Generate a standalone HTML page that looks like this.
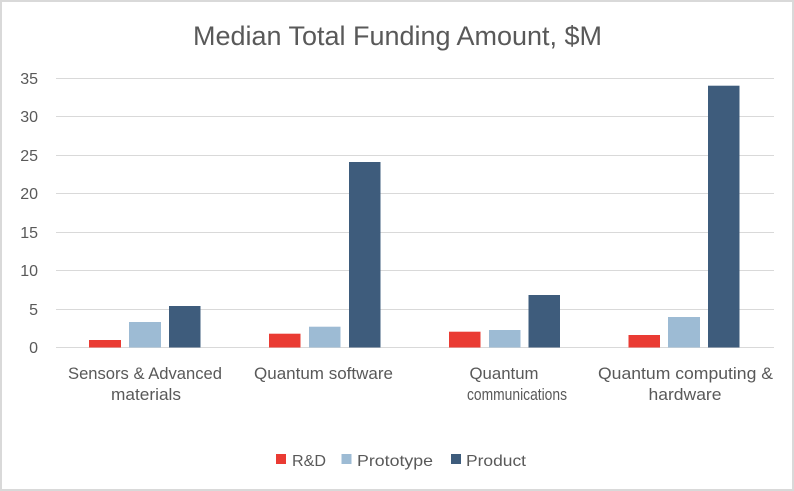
<!DOCTYPE html>
<html><head><meta charset="utf-8"><style>
html,body{margin:0;padding:0;background:#fff;}
svg{display:block;}
text{font-family:"Liberation Sans",Arial,sans-serif;fill:#595959;}
</style></head><body>
<svg width="794" height="491" viewBox="0 0 794 491" xmlns="http://www.w3.org/2000/svg">
<rect x="0" y="0" width="794" height="491" fill="#fff"/>
<rect x="1" y="1" width="792" height="489" fill="none" stroke="#d9d9d9" stroke-width="2"/>
<text x="193" y="45" font-size="27" textLength="409" lengthAdjust="spacingAndGlyphs">Median Total Funding Amount, $M</text>
<g stroke="#d9d9d9" stroke-width="1">
<line x1="56" x2="774" y1="78.5" y2="78.5"/>
<line x1="56" x2="774" y1="116.5" y2="116.5"/>
<line x1="56" x2="774" y1="155.5" y2="155.5"/>
<line x1="56" x2="774" y1="193.5" y2="193.5"/>
<line x1="56" x2="774" y1="232.5" y2="232.5"/>
<line x1="56" x2="774" y1="270.5" y2="270.5"/>
<line x1="56" x2="774" y1="309.5" y2="309.5"/>
<line x1="56" x2="774" y1="347.5" y2="347.5"/>
</g>
<g font-size="16" text-anchor="end">
<text x="38" y="84">35</text>
<text x="38" y="122">30</text>
<text x="38" y="161">25</text>
<text x="38" y="199">20</text>
<text x="38" y="238">15</text>
<text x="38" y="276">10</text>
<text x="38" y="315">5</text>
<text x="38" y="353">0</text>
</g>
<g>
<rect x="89" y="340" width="32" height="7.5" fill="#ea3b33"/>
<rect x="129" y="322" width="32" height="25.5" fill="#9dbbd4"/>
<rect x="169" y="306" width="31.5" height="41.5" fill="#3e5c7c"/>
<rect x="269" y="333.7" width="31.5" height="13.8" fill="#ea3b33"/>
<rect x="309" y="326.7" width="31.5" height="20.8" fill="#9dbbd4"/>
<rect x="349" y="162" width="31.5" height="185.5" fill="#3e5c7c"/>
<rect x="449" y="331.7" width="31.5" height="15.8" fill="#ea3b33"/>
<rect x="489" y="330" width="31.5" height="17.5" fill="#9dbbd4"/>
<rect x="528.5" y="295" width="31.5" height="52.5" fill="#3e5c7c"/>
<rect x="628.5" y="335" width="31.5" height="12.5" fill="#ea3b33"/>
<rect x="668" y="317" width="32" height="30.5" fill="#9dbbd4"/>
<rect x="708" y="85.7" width="31.5" height="261.8" fill="#3e5c7c"/>
</g>
<g font-size="17">
<text x="68" y="379" textLength="154" lengthAdjust="spacingAndGlyphs">Sensors &amp; Advanced</text>
<text x="111" y="400" textLength="70" lengthAdjust="spacingAndGlyphs">materials</text>
<text x="254" y="379" textLength="139" lengthAdjust="spacingAndGlyphs">Quantum software</text>
<text x="469.5" y="379" textLength="69" lengthAdjust="spacingAndGlyphs">Quantum</text>
<text x="467" y="400" textLength="100" lengthAdjust="spacingAndGlyphs">communications</text>
<text x="598" y="379" textLength="175" lengthAdjust="spacingAndGlyphs">Quantum computing &amp;</text>
<text x="648.5" y="400" textLength="73" lengthAdjust="spacingAndGlyphs">hardware</text>
</g>
<rect x="276" y="454" width="10" height="10" fill="#ea3b33"/>
<rect x="341.5" y="454" width="10" height="10" fill="#9dbbd4"/>
<rect x="451" y="454" width="10" height="10" fill="#3e5c7c"/>
<g font-size="16">
<text x="292" y="466" textLength="34" lengthAdjust="spacingAndGlyphs">R&amp;D</text>
<text x="357" y="466" textLength="76" lengthAdjust="spacingAndGlyphs">Prototype</text>
<text x="466" y="466" textLength="60" lengthAdjust="spacingAndGlyphs">Product</text>
</g>
</svg>
</body></html>
